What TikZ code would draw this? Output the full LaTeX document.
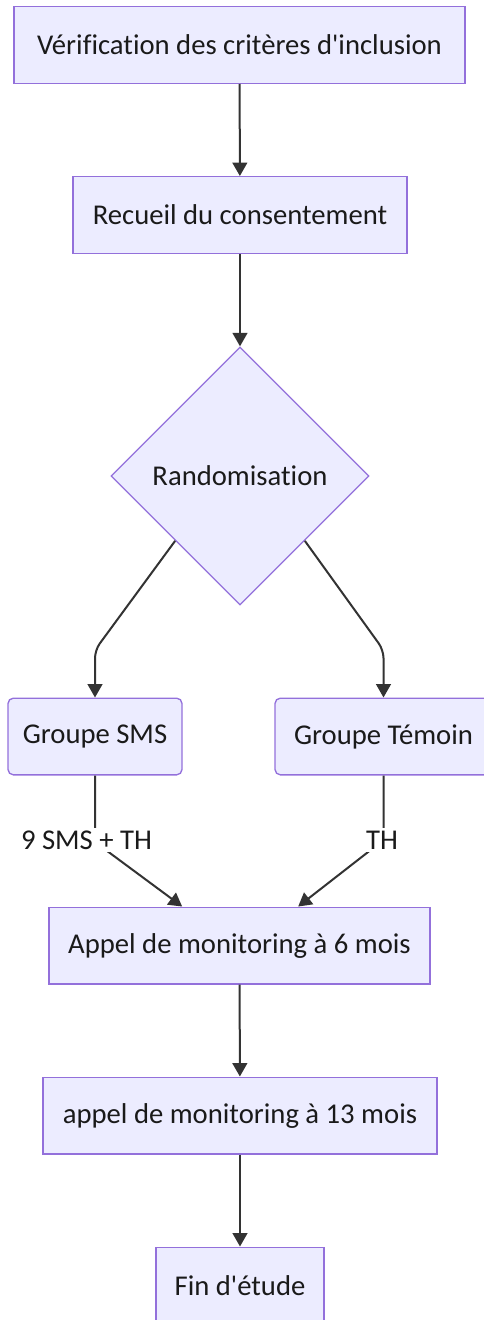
\documentclass[tikz,border=0pt]{standalone}
\usepackage{fontspec}
\setmainfont{Carlito}[Ligatures={TeXOff,CommonOff}]
\usetikzlibrary{arrows.meta,shapes.geometric}
\definecolor{nodefill}{HTML}{ECECFF}
\definecolor{nodeborder}{HTML}{9370DB}
\definecolor{edgecol}{HTML}{333333}
\definecolor{txt}{HTML}{1A1A1A}
\begin{document}
\begin{tikzpicture}[x=0.75pt,y=-0.75pt,
  every node/.style={text=txt, font=\fontsize{21.5}{25}\selectfont},
  box/.style={draw=nodeborder, fill=nodefill, line width=1pt, inner sep=0pt, minimum height=57.5pt},
  rbox/.style={box, rounded corners=4pt},
  decision/.style={diamond, draw=nodeborder, fill=nodefill, line width=1pt, inner sep=0pt, minimum width=193.5pt, minimum height=193.5pt},
  edge/.style={draw=edgecol, line width=1.5pt, -{Triangle[length=10pt,width=11pt]}, rounded corners=6pt},
  elabel/.style={fill=white, inner sep=2pt}]
\useasboundingbox (0,0) rectangle (484,1320);
\clip (0,0) rectangle (484,1320);
\node[box, minimum width=338.25pt] (A) at (239.5,45) {Vérification des critères d'inclusion};
\node[box, minimum width=250.5pt] (B) at (240,215) {Recueil du consentement};
\node[decision] (C) at (240,476) {Randomisation};
\node[rbox, minimum width=130.5pt] (D) at (95,736.5) {Groupe SMS};
\node[rbox, minimum width=162.75pt] (E) at (383.5,736.5) {Groupe Témoin};
\node[box, minimum width=285.75pt] (F) at (239.5,945.5) {Appel de monitoring à 6 mois};
\node[box, minimum width=295.5pt] (G) at (240,1115.5) {appel de monitoring à 13 mois};
\node[box, minimum width=126pt] (H) at (240,1285.5) {Fin d'étude};
\coordinate (cd) at (95,650);
\coordinate (ce) at (383.5,650);
\coordinate (df) at (95,842);
\coordinate (ef) at (383.5,840);
\draw[edge] (A) -- (B);
\draw[edge] (B) -- (C);
\draw[edge] (C.south west) -- (cd) -- (D.north);
\draw[edge] (C.south east) -- (ce) -- (E.north);
\draw[edge] (D.south) -- (df) -- ([xshift=-43pt]F.north);
\draw[edge] (E.south) -- (ef) -- ([xshift=44pt]F.north);
\draw[edge] (F) -- (G);
\draw[edge] (G) -- (H);
\node[elabel] (L1) at (86.5,840) {9 SMS + TH};
\node[elabel] (L2) at (382,840) {TH};
\end{tikzpicture}
\end{document}
